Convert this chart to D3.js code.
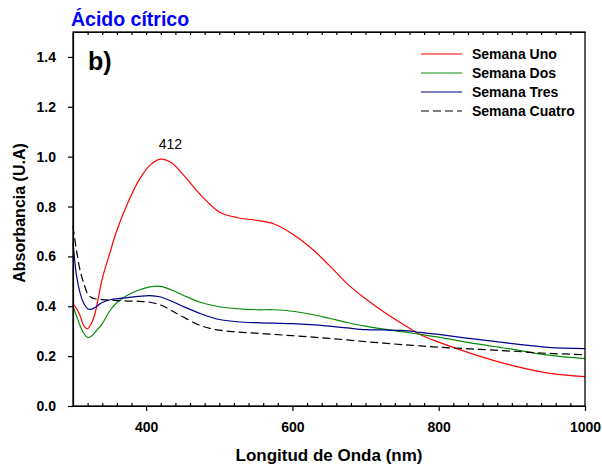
<!DOCTYPE html>
<html>
<head>
<meta charset="utf-8">
<script src="https://cdn.jsdelivr.net/npm/d3@7"></script>
<style>
  html, body { margin: 0; padding: 0; background: #fff; }
  svg { display: block; font-family: "Liberation Sans", Arial, sans-serif; }
</style>
</head>
<body>
<svg id="chart" width="602" height="473"></svg>
<script>
// longitud de onda (nm), compartida por las cuatro series
const wavelength = [300, 305, 310, 315, 320, 325, 330, 340, 350, 360, 375, 390, 405, 420, 435, 450, 475,
  500, 525, 550, 575, 600, 625, 650, 675, 700, 725, 750, 775, 800, 850, 900, 950, 1000];

const semanaUno = [0.41, 0.39, 0.36, 0.32, 0.31, 0.33, 0.37, 0.51, 0.61, 0.705, 0.815, 0.905, 0.965, 0.99, 0.975, 0.93, 0.845,
  0.778, 0.755, 0.745, 0.73, 0.69, 0.635, 0.565, 0.49, 0.43, 0.377, 0.33, 0.286, 0.256, 0.205, 0.163, 0.132, 0.118];
const semanaDos = [0.40, 0.36, 0.32, 0.29, 0.275, 0.28, 0.295, 0.33, 0.38, 0.415, 0.445, 0.465, 0.478, 0.48, 0.465, 0.445, 0.415,
  0.398, 0.39, 0.386, 0.386, 0.38, 0.368, 0.352, 0.335, 0.32, 0.308, 0.298, 0.287, 0.276, 0.25, 0.228, 0.204, 0.19];
const semanaTres = [0.655, 0.52, 0.45, 0.41, 0.39, 0.388, 0.395, 0.415, 0.425, 0.43, 0.435, 0.44, 0.443, 0.437, 0.42, 0.40, 0.37,
  0.347, 0.338, 0.334, 0.332, 0.33, 0.326, 0.32, 0.313, 0.306, 0.305, 0.303, 0.295, 0.287, 0.268, 0.25, 0.235, 0.23];
const semanaCuatro = [0.72, 0.62, 0.54, 0.49, 0.45, 0.435, 0.43, 0.427, 0.425, 0.423, 0.421, 0.42, 0.416, 0.405, 0.382, 0.358, 0.322,
  0.304, 0.297, 0.292, 0.287, 0.282, 0.277, 0.271, 0.265, 0.258, 0.252, 0.246, 0.241, 0.236, 0.228, 0.22, 0.211, 0.206];

const seriesNames = ['Semana Uno', 'Semana Dos', 'Semana Tres', 'Semana Cuatro'];
const xTicks = [400, 600, 800, 1000];
const yTicks = [0.0, 0.2, 0.4, 0.6, 0.8, 1.0, 1.2, 1.4];
const peakLabel = { x: 412, y: 0.99, text: '412' };

const style = [
  { color: '#ff0000', dash: null },
  { color: '#0a8a0a', dash: null },
  { color: '#00008b', dash: null },
  { color: '#000000', dash: '8,4' }
];

const margin = { top: 32, right: 17, bottom: 67, left: 73 };
const width = 602, height = 473;

const svg = d3.select('#chart');

const xScale = d3.scaleLinear([300, 1000], [margin.left, width - margin.right]);
const yScale = d3.scaleLinear([0, 1.5], [height - margin.bottom, margin.top]);

const series = [semanaUno, semanaDos, semanaTres, semanaCuatro].map((vals, i) => ({
  name: seriesNames[i],
  points: wavelength.map((w, j) => ({ x: w, y: vals[j] })),
  ...style[i]
}));

// curvas
const line = d3.line()
  .curve(d3.curveCatmullRom.alpha(0.5))
  .x(d => xScale(d.x))
  .y(d => yScale(d.y));

const plot = svg.append('g').attr('class', 'line-group');
plot.selectAll('path')
  .data(series)
  .join('path')
    .attr('d', d => line(d.points))
    .attr('fill', 'none')
    .attr('stroke', d => d.color)
    .attr('stroke-width', 1.2)
    .attr('stroke-dasharray', d => d.dash);

// ejes
const axisGroup = svg.append('g').attr('class', 'axis-group');
const minorAll = d3.range(320, 1000, 20);
const minor = minorAll.filter(v => !xTicks.includes(v));

// eje x abajo: mayores hacia afuera, menores hacia adentro
axisGroup.append('g')
  .attr('transform', `translate(0, ${yScale(0)})`)
  .call(d3.axisBottom(xScale).tickValues(xTicks).tickSize(5).tickPadding(11).tickFormat(d3.format('d')).tickSizeOuter(0))
  .call(g => g.selectAll('text').attr('font-size', 14).attr('font-weight', 700));
axisGroup.append('g')
  .attr('transform', `translate(0, ${yScale(0)})`)
  .call(d3.axisTop(xScale).tickValues(minor).tickSize(3).tickFormat(() => '').tickSizeOuter(0))
  .call(g => g.select('.domain').remove());

// eje x arriba, solo marcas
axisGroup.append('g')
  .attr('transform', `translate(0, ${yScale(1.5)})`)
  .call(d3.axisBottom(xScale).tickValues(minorAll).tickSize(3).tickFormat(() => '').tickSizeOuter(0));

// eje y
axisGroup.append('g')
  .attr('transform', `translate(${xScale(300)}, 0)`)
  .call(d3.axisLeft(yScale).tickValues(yTicks).tickSize(5).tickPadding(12).tickFormat(d3.format('.1f')).tickSizeOuter(0))
  .call(g => g.selectAll('text').attr('font-size', 14).attr('font-weight', 700));

axisGroup.selectAll('text')
  .attr('font-family', '"Liberation Sans", Arial, sans-serif')
  .attr('fill', '#000');
axisGroup.selectAll('.domain, .tick line').attr('stroke', '#000').attr('stroke-width', 1.2);

// marco
svg.append('rect')
  .attr('x', xScale(300))
  .attr('y', yScale(1.5))
  .attr('width', xScale(1000) - xScale(300))
  .attr('height', yScale(0) - yScale(1.5))
  .attr('fill', 'none')
  .attr('stroke', '#000')
  .attr('stroke-width', 1.3);

// nombres de ejes
svg.append('text')
  .attr('x', (xScale(300) + xScale(1000)) / 2)
  .attr('y', 461)
  .attr('text-anchor', 'middle')
  .attr('font-size', 17)
  .attr('font-weight', 700)
  .text('Longitud de Onda (nm)');

svg.append('g')
  .attr('transform', `translate(${[25, 213]})`)
.append('text')
  .attr('transform', 'rotate(-90)')
  .attr('text-anchor', 'middle')
  .attr('font-size', 16)
  .attr('font-weight', 700)
  .text('Absorbancia (U.A)');

// título y letra del panel
svg.append('text')
  .attr('x', 71)
  .attr('y', 26)
  .attr('font-size', 19.5)
  .attr('font-weight', 700)
  .attr('fill', '#0000ff')
  .text('Ácido cítrico');

svg.append('text')
  .attr('x', 88)
  .attr('y', 70)
  .attr('font-size', 25)
  .attr('font-weight', 700)
  .text('b)');

// etiqueta del máximo
svg.append('text')
  .attr('x', xScale(peakLabel.x) + 15.5)
  .attr('y', 149)
  .attr('text-anchor', 'middle')
  .attr('font-size', 14)
  .text(peakLabel.text);

// leyenda
const legend = svg.append('g')
  .attr('transform', `translate(${[421, 54]})`)
.selectAll('g')
  .data(series)
  .join('g')
    .attr('transform', (d, i) => `translate(0, ${i * 19})`);
legend.append('line')
  .attr('x2', 41)
  .attr('stroke', d => d.color)
  .attr('stroke-width', 1.2)
  .attr('stroke-dasharray', d => d.dash);
legend.append('text')
  .attr('x', 51)
  .attr('dy', '0.35em')
  .attr('font-size', 14)
  .attr('font-weight', 700)
  .text(d => d.name);
</script>
</body>
</html>
